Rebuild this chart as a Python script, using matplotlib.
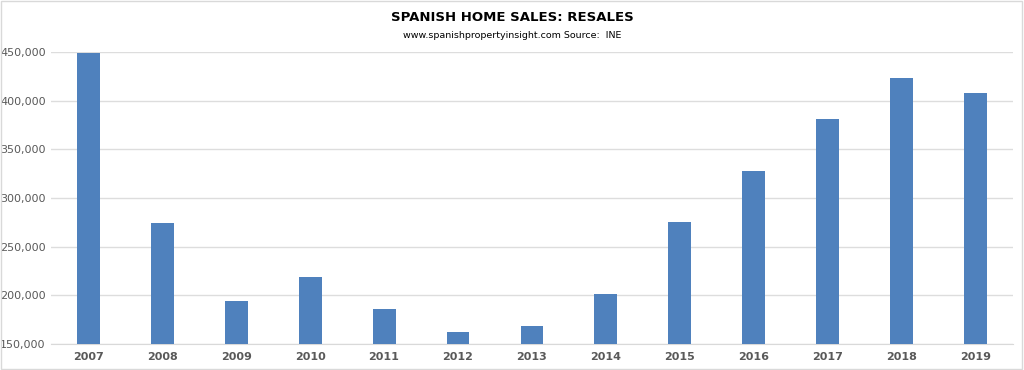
import matplotlib.pyplot as plt
from matplotlib.ticker import FuncFormatter

# Spanish resales per year (INE)
years = ['2007', '2008', '2009', '2010', '2011', '2012', '2013',
         '2014', '2015', '2016', '2017', '2018', '2019']
sales = [449000, 274000, 194500, 218500, 185700, 162300, 169000,
         201400, 275700, 327800, 381000, 423000, 408000]

fig = plt.figure(figsize=(10.24, 3.7), dpi=100)
ax = fig.add_axes([0.05, 0.07, 0.939, 0.789])

x = range(len(years))
ax.bar(x, sales, width=0.31, color='#4F81BD', zorder=3)

ax.set_ylim(150000, 450000)
ax.set_xlim(-0.5, len(years) - 0.5)
ax.set_yticks(range(150000, 450001, 50000))
ax.yaxis.set_major_formatter(FuncFormatter(lambda v, p: f'{int(v):,}'))
ax.set_xticks(list(x))
ax.set_xticklabels(years, fontweight='bold')

ax.grid(axis='y', color='#DDDDDD', linewidth=1, zorder=0)
for side in ['top', 'right', 'left']:
    ax.spines[side].set_visible(False)
ax.spines['bottom'].set_color('#D9D9D9')
ax.tick_params(axis='both', length=0, colors='#595959', labelsize=8)
ax.tick_params(axis='y', pad=4)
ax.tick_params(axis='x', pad=6)

fig.text(0.5, 0.953, 'SPANISH HOME SALES: RESALES', ha='center', va='center',
         fontsize=9.5, fontweight='bold', color='black')
fig.text(0.5, 0.903, 'www.spanishpropertyinsight.com Source:  INE', ha='center',
         va='center', fontsize=6.8, color='black')

# light frame round the whole picture
fig.patches.append(plt.Rectangle((0.001, 0.002), 0.997, 0.995, transform=fig.transFigure,
                                 fill=False, edgecolor='#D9D9D9', linewidth=1))

plt.savefig('out.png', dpi=100)
